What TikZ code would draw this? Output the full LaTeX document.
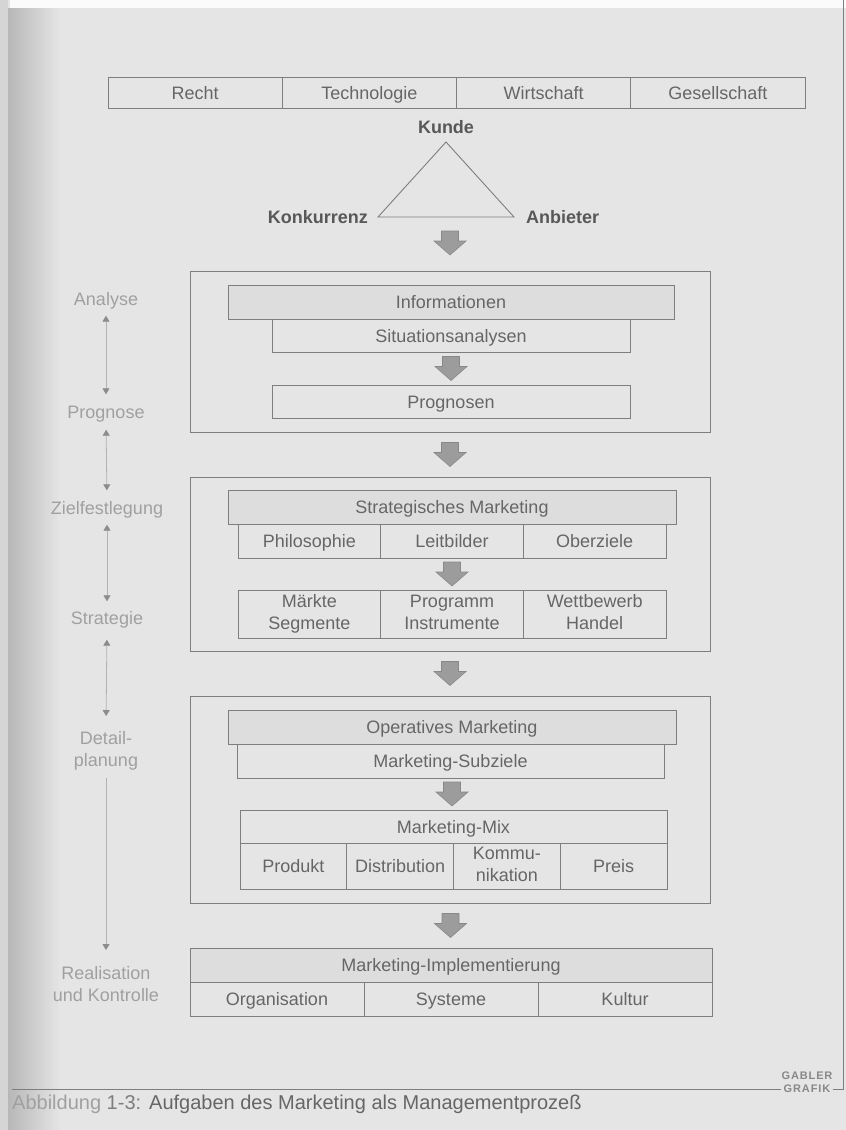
\documentclass[tikz,border=0pt]{standalone}
\usepackage{fontspec}
\setmainfont{Liberation Sans}
\usetikzlibrary{arrows.meta,calc}
\definecolor{bg}{HTML}{E5E5E5}
\definecolor{ln}{HTML}{7E7E7E}
\definecolor{tx}{HTML}{666666}
\definecolor{txb}{HTML}{585858}
\definecolor{shadefill}{HTML}{DDDDDD}
\definecolor{arrfill}{HTML}{9C9C9C}
\definecolor{arrline}{HTML}{888888}
\definecolor{lbl}{HTML}{A0A0A0}
\definecolor{lblline}{HTML}{B2B2B2}
\definecolor{lblhead}{HTML}{8C8C8C}
\newcommand{\cst}{\rule[-4pt]{0pt}{21pt}}
\begin{document}
\begin{tikzpicture}[x=1pt,y=-1pt,
  cell/.style={draw=ln, line width=0.9pt, inner sep=0pt, outer sep=0pt,
    font=\fontsize{18}{22}\selectfont, text=tx, align=center, execute at begin node=\cst},
  shadedcell/.style={cell, fill=shadefill},
  frame/.style={draw=ln, line width=0.9pt, inner sep=0pt, outer sep=0pt},
  boldlbl/.style={font=\fontsize{18}{22}\selectfont\bfseries, text=txb, inner sep=0pt},
  sidelbl/.style={font=\fontsize{18}{22}\selectfont, text=lbl, inner sep=0pt,
    text height=13pt, text depth=0pt},
  sidelbltwo/.style={font=\fontsize{18}{22}\selectfont, text=lbl, inner sep=0pt, align=center},
  sidearr/.style={draw=lblline, line width=0.8pt,
    {Triangle[width=7pt,length=6pt,color=lblhead]}-{Triangle[width=7pt,length=6pt,color=lblhead]}},
  sidearrdown/.style={draw=lblline, line width=0.8pt,
    -{Triangle[width=7pt,length=6pt,color=lblhead]}},
  blockdown/.pic={\filldraw[fill=arrfill, draw=arrline, line width=0.6pt]
    (-8.5,-12) -- (8.5,-12) -- (8.5,-2) -- (16,-2) -- (0,12) -- (-16,-2) -- (-8.5,-2) -- cycle;}
]
% background
\fill[bg] (0,0) rectangle (846,1130);
\fill[white!85!bg] (10,0) rectangle (846,8);
\shade[left color=bg!80!black, right color=bg] (8,8) rectangle (60,1130);
\fill[bg!93!black] (0,0) rectangle (8,1130);
\useasboundingbox (0,0) rectangle (846,1130);

% top bar
\node[cell, minimum width=174.25pt, minimum height=31pt] (recht) at (195.125,92.5) {Recht};
\node[cell, minimum width=174.25pt, minimum height=31pt] (tech) at (369.375,92.5) {Technologie};
\node[cell, minimum width=174.25pt, minimum height=31pt] (wirt) at (543.625,92.5) {Wirtschaft};
\node[cell, minimum width=174.25pt, minimum height=31pt] (ges) at (717.875,92.5) {Gesellschaft};

% triangle
\coordinate (apex) at (446,142);
\coordinate (tl) at (378,217);
\coordinate (tr) at (514,217);
\draw[draw=ln, line width=0.9pt] (apex) -- (tl) -- (tr) -- cycle;
\node[boldlbl, anchor=south] (kunde) at ($(apex)+(0,-8)$) {Kunde};
\node[boldlbl, anchor=east] (konk) at ($(tl)+(-10,0)$) {Konkurrenz};
\node[boldlbl, anchor=west] (anb) at ($(tr)+(12,0)$) {Anbieter};

% box 1
\node[frame, minimum width=520pt, minimum height=161pt] (bx1) at (450,351.5) {};
\node[shadedcell, minimum width=446pt, minimum height=34pt] (info) at (451,302) {Informationen};
\node[cell, minimum width=358pt, minimum height=33pt] (sit) at (451,335.5) {Situationsanalysen};
\node[cell, minimum width=358pt, minimum height=33pt] (prog) at (451,401.5) {Prognosen};

% box 2
\node[frame, minimum width=520pt, minimum height=174pt] (bx2) at (450,564) {};
\node[shadedcell, minimum width=448pt, minimum height=34pt] (strat) at (452,507) {Strategisches Marketing};
\node[cell, minimum width=142.67pt, minimum height=34pt] (phil) at (309.33,541) {Philosophie};
\node[cell, minimum width=142.67pt, minimum height=34pt] (leit) at (452,541) {Leitbilder};
\node[cell, minimum width=142.67pt, minimum height=34pt] (ober) at (594.67,541) {Oberziele};
\node[cell, minimum width=142.67pt, minimum height=48pt] (mark) at (309.33,614) {Märkte\\\cst Segmente};
\node[cell, minimum width=142.67pt, minimum height=48pt] (progr) at (452,614) {Programm\\\cst Instrumente};
\node[cell, minimum width=142.67pt, minimum height=48pt] (wett) at (594.67,614) {Wettbewerb\\\cst Handel};

% box 3
\node[frame, minimum width=520pt, minimum height=207pt] (bx3) at (450,799.5) {};
\node[shadedcell, minimum width=448pt, minimum height=34pt] (oper) at (452,727) {Operatives Marketing};
\node[cell, minimum width=427pt, minimum height=34pt] (subz) at (450.5,761) {Marketing-Subziele};
\node[cell, minimum width=427pt, minimum height=33pt] (mixh) at (453.5,826.5) {Marketing-Mix};
\node[cell, minimum width=106.75pt, minimum height=46pt] (prod) at (293.375,866) {Produkt};
\node[cell, minimum width=106.75pt, minimum height=46pt] (dist) at (400.125,866) {Distribution};
\node[cell, minimum width=106.75pt, minimum height=46pt] (komm) at (506.875,866) {Kommu-\\\cst nikation};
\node[cell, minimum width=106.75pt, minimum height=46pt] (preis) at (613.625,866) {Preis};

% implementation
\node[shadedcell, minimum width=522pt, minimum height=34pt] (implh) at (451,965) {Marketing-Implementierung};
\node[cell, minimum width=174pt, minimum height=34pt] (org) at (277,999) {Organisation};
\node[cell, minimum width=174pt, minimum height=34pt] (sys) at (451,999) {Systeme};
\node[cell, minimum width=174pt, minimum height=34pt] (kult) at (625,999) {Kultur};

% block arrows
\pic at ($(bx1.north)+(0,-28)$) {blockdown};
\pic at ($(sit.south)!0.5!(prog.north)$) {blockdown};
\pic at ($(bx1.south)!0.5!(bx2.north)$) {blockdown};
\pic at ($(ober.south -| strat.south)!0.5!(progr.north)$) {blockdown};
\pic at ($(bx2.south)!0.5!(bx3.north)$) {blockdown};
\pic at ($(subz.south)!0.5!(mixh.north)$) {blockdown};
\pic at ($(bx3.south)!0.5!(implh.north)$) {blockdown};

% side labels
\node[sidelbl] (analyse) at (106,299) {Analyse};
\node[sidelbl] (prognose) at (106,412) {Prognose};
\node[sidelbl] (ziel) at (107,508) {Zielfestlegung};
\node[sidelbl] (strategie) at (107,618) {Strategie};
\node[sidelbltwo, anchor=north] (detail) at (106,731) {Detail-\\planung};
\node[sidelbltwo, anchor=north] (real) at (106,966) {Realisation\\und Kontrolle};

\draw[sidearr, shorten <=10pt, shorten >=11pt] (analyse.south) -- (prognose.north);
\draw[sidearr, shorten <=11pt, shorten >=11pt] (prognose.south) -- (ziel.north);
\draw[sidearr, shorten <=10pt, shorten >=10pt] (ziel.south) -- (strategie.north);
\draw[sidearr, shorten <=15pt, shorten >=15pt] (strategie.south) -- (detail.north);
\draw[sidearrdown, shorten <=8pt, shorten >=16pt] (detail.south) -- (real.north);

% caption
\node[font=\fontsize{11}{12.5}\selectfont\bfseries\addfontfeatures{LetterSpace=8}, text=arrline,
  inner sep=0pt, align=center] (gabler) at (807,1082) {GABLER\\GRAFIK};
\draw[draw=ln, line width=0.8pt] (12,1089) -- (gabler.west |- 0,1089);
\draw[draw=ln, line width=0.8pt] (gabler.east |- 0,1089) -- (843,1089) -- (843,0);
\node[anchor=west, font=\fontsize{20}{24}\selectfont, text=tx, inner sep=0pt] (cap) at (12,1104)
  {\textcolor{lbl}{Abbildung}\ \textcolor{tx!60!lbl}{1-3:}\hspace{8pt}Aufgaben des Marketing als Managementprozeß};
\end{tikzpicture}
\end{document}
